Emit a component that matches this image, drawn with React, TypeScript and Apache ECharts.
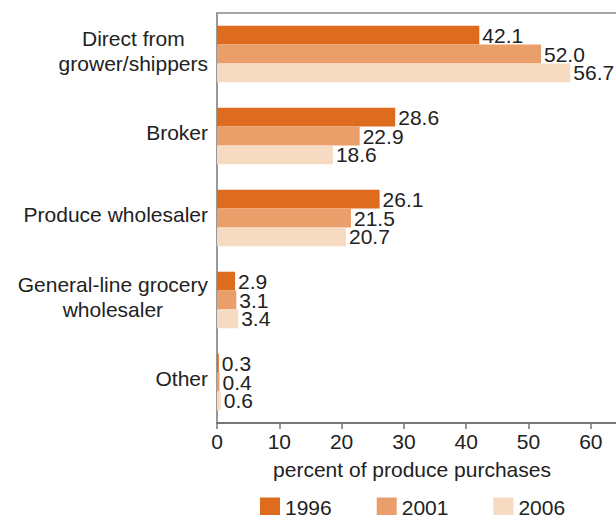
import React, { useEffect, useRef } from "react";
import * as echarts from "echarts";

const categories = [
  "Direct from\ngrower/shippers",
  "Broker",
  "Produce wholesaler",
  "General-line grocery\nwholesaler",
  "Other",
];
const seriesNames = ["1996", "2001", "2006"];
const values1996 = [42.1, 28.6, 26.1, 2.9, 0.3];
const values2001 = [52.0, 22.9, 21.5, 3.1, 0.4];
const values2006 = [56.7, 18.6, 20.7, 3.4, 0.6];
const colors = ["#DD6C1E", "#EA9F6B", "#F6DAC1"];
const xAxisName = "percent of produce purchases";

const FONT = "'Liberation Sans', Arial, sans-serif";

export default function App() {
  const ref = useRef<HTMLDivElement>(null);
  useEffect(() => {
    if (!ref.current) return;
    const chart = echarts.init(ref.current, null, { renderer: "svg" });
    const allValues = [values1996, values2001, values2006];
    chart.setOption({
      animation: false,
      textStyle: { fontFamily: FONT },
      grid: {
        left: 217,
        top: 13,
        bottom: 92,
        right: -6,
        show: true,
        borderColor: "#a6a6a6",
        borderWidth: 2,
        containLabel: false,
        outerBoundsMode: "none",
      },
      legend: {
        data: seriesNames,
        left: 255,
        top: 492,
        itemWidth: 20,
        itemHeight: 20,
        itemGap: 45,
        icon: "rect",
        textStyle: { fontSize: 21, color: "#222", fontFamily: FONT },
      },
      xAxis: {
        type: "value",
        min: 0,
        max: 65,
        interval: 10,
        name: xAxisName,
        nameLocation: "middle",
        nameGap: 36,
        nameTextStyle: { fontSize: 21, color: "#222", fontFamily: FONT, padding: [0, 15, 0, 0] },
        splitLine: { show: false },
        axisLine: { show: true, lineStyle: { color: "#777", width: 2 } },
        axisTick: { show: true, length: 6, lineStyle: { color: "#777", width: 1.5 } },
        axisLabel: {
          fontSize: 21,
          color: "#222",
          margin: 8,
          fontFamily: FONT,
          showMaxLabel: false,
        },
      },
      yAxis: {
        type: "category",
        data: categories,
        inverse: true,
        axisLine: { show: true, lineStyle: { color: "#999", width: 2 } },
        axisTick: { show: false },
        axisLabel: {
          margin: 9,
          fontSize: 21,
          lineHeight: 25,
          color: "#222",
          fontFamily: FONT,
          padding: [0, 0, 7, 0],
          formatter: (v: string) =>
            v
              .split("\n")
              .map((l) => `{c|${l}}`)
              .join("\n"),
          rich: {
            c: {
              align: "center",
              fontSize: 21,
              lineHeight: 25,
              color: "#222",
              fontFamily: FONT,
            },
          },
        },
      },
      series: seriesNames.map((name, i) => ({
        name,
        type: "bar",
        data: allValues[i],
        barGap: "0%",
        barCategoryGap: "31%",
        itemStyle: { color: colors[i] },
        label: {
          show: true,
          position: "right",
          distance: 3,
          fontSize: 21,
          color: "#222",
          fontFamily: FONT,
          formatter: (p: any) => Number(p.value).toFixed(1),
        },
      })),
    });
    return () => chart.dispose();
  }, []);
  return (
    <div
      ref={ref}
      style={{ position: "fixed", left: 0, top: 0, width: 616, height: 515, background: "#fff" }}
    />
  );
}
